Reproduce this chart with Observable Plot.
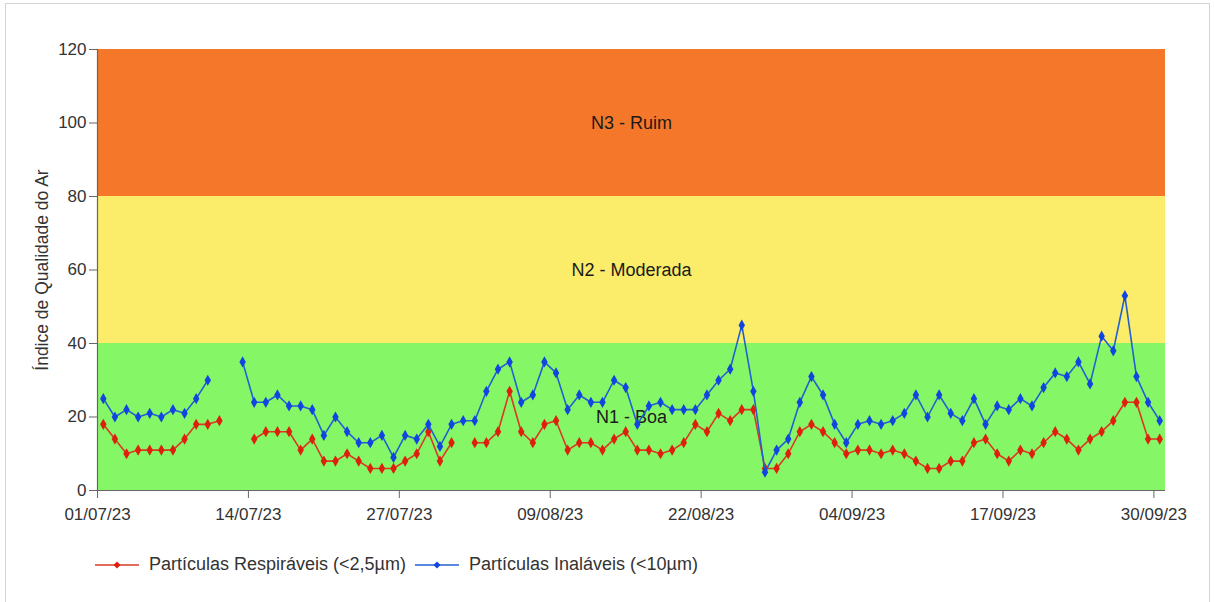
<!DOCTYPE html>
<html>
<head>
<meta charset="utf-8">
<script src="https://cdn.jsdelivr.net/npm/d3@7"></script>
<script src="https://cdn.jsdelivr.net/npm/@observablehq/plot@0.6"></script>
<style>
  html, body { margin: 0; padding: 0; background: #fff; }
  body { width: 1214px; height: 602px; position: relative; overflow: hidden; font-family: "Liberation Sans", Arial, sans-serif; }
  #frame { position: absolute; left: 5px; top: 3px; width: 1205px; height: 620px; border: 1px solid #d4d4d4; box-sizing: border-box; pointer-events: none; }
  #chart { position: absolute; left: 0; top: 0; }
  #legend { position: absolute; left: 95px; top: 554px; display: flex; align-items: center; font-size: 18px; color: #333; }
  .item { display: flex; align-items: center; margin-right: 9px; }
  .item svg { margin-right: 10px; }
</style>
</head>
<body>
<div id="chart"></div>
<div id="legend"></div>
<div id="frame"></div>
<script>
// ---- data ----
const startDay = "2023-07-01";
const endDay = "2023-10-01";
// Partículas Respiráveis (<2,5µm), one value per day from 01/07/23 (null = no data)
const pm25 = [18,14,10,11,11,11,11,14,18,18,19,null,null,14,16,16,16,11,14,8,
  8,10,8,6,6,6,8,10,16,8,13,null,13,13,16,27,16,13,18,19,
  11,13,13,11,14,16,11,11,10,11,13,18,16,21,19,22,22,6,6,10,
  16,18,16,13,10,11,11,10,11,10,8,6,6,8,8,13,14,10,8,11,
  10,13,16,14,11,14,16,19,24,24,14,14];
// Partículas Inaláveis (<10µm)
const pm10 = [25,20,22,20,21,20,22,21,25,30,null,null,35,24,24,26,23,23,22,15,
  20,16,13,13,15,9,15,14,18,12,18,19,19,27,33,35,24,26,35,32,
  22,26,24,24,30,28,18,23,24,22,22,22,26,30,33,45,27,5,11,14,
  24,31,26,18,13,18,19,18,19,21,26,20,26,21,19,25,18,23,22,25,
  23,28,32,31,35,29,42,38,53,31,24,19];
const seriesNames = ["Partículas Respiráveis (<2,5µm)", "Partículas Inaláveis (<10µm)"];
const lineColors = ["#d93a22", "#2360d2"];
const markColors = ["#dd1f0c", "#1244e0"];
// quality bands
const bandLabels = ["N1 - Boa", "N2 - Moderada", "N3 - Ruim"];
const bandLow = [0, 40, 80];
const bandHigh = [40, 80, 120];
const bandColors = ["#85f766", "#fbec69", "#f5782a"];
// axes
const xTicks = ["2023-07-01","2023-07-14","2023-07-27","2023-08-09","2023-08-22","2023-09-04","2023-09-17","2023-09-30"];
const yTicks = [0, 20, 40, 60, 80, 100, 120];
const yTitle = "Índice de Qualidade do Ar";

// ---- build ----
const t0 = new Date(startDay + "T00:00:00Z");
const t1 = new Date(endDay + "T00:00:00Z");
const DAY = 864e5;
const rows = [];
[pm25, pm10].forEach((vals, s) => {
  vals.forEach((v, i) => rows.push({series: s, date: new Date(+t0 + (i + 0.5) * DAY), value: v}));
});
const bands = bandLabels.map((l, i) => ({label: l, lo: bandLow[i], hi: bandHigh[i], color: bandColors[i]}));
const mid = new Date((+t0 + +t1) / 2);

const marks = [
  Plot.rect(bands, {x1: () => t0, x2: () => t1, y1: "lo", y2: "hi", fill: "color"}),
  Plot.text(bands, {x: () => mid, y: d => (d.lo + d.hi) / 2, text: "label", fontSize: 18, fill: "#1a1a1a"}),
  Plot.ruleY([0], {stroke: "#666", strokeWidth: 1.2}),
  Plot.ruleX([t0], {stroke: "#666", strokeWidth: 1.2})
];
[0, 1].forEach(s => {
  const data = rows.filter(r => r.series === s);
  marks.push(Plot.line(data, {x: "date", y: "value", stroke: lineColors[s], strokeWidth: 1.6}));
  marks.push(Plot.dot(data.filter(d => d.value != null), {x: "date", y: "value", symbol: "diamond", r: 3.4, fill: markColors[s], stroke: "none"}));
});
marks.push(Plot.axisY({ticks: yTicks, tickSize: 8, tickPadding: 3, fontSize: 17, stroke: "#666", color: "#333",
  label: yTitle, labelAnchor: "center", labelOffset: 62, labelArrow: "none"}));
marks.push(Plot.axisX({ticks: xTicks.map(s => new Date(s + "T00:00:00Z")), tickSize: 8, tickPadding: 9, fontSize: 17,
  stroke: "#666", color: "#333", tickFormat: d3.utcFormat("%d/%m/%y"), label: null}));

const chart = Plot.plot({
  width: 1214,
  height: 545,
  marginTop: 49,
  marginBottom: 55,
  marginLeft: 97,
  marginRight: 49,
  style: {fontFamily: "Liberation Sans, Arial, sans-serif", background: "transparent", color: "#333"},
  x: {type: "utc", domain: [t0, t1]},
  y: {domain: [0, 120]},
  marks
});
document.getElementById("chart").appendChild(chart);
chart.querySelectorAll('g[aria-label="y-axis label"] text, g[aria-label="y-axis label"]').forEach(el => {
  el.setAttribute("font-size", "17.5");
  el.style.fontSize = "17.5px";
});

// legend
const legend = document.getElementById("legend");
seriesNames.forEach((name, s) => {
  const item = document.createElement("div");
  item.className = "item";
  item.innerHTML = `<svg width="44" height="12"><line x1="0" y1="6" x2="44" y2="6" stroke="${lineColors[s]}" stroke-width="1.6"/><path d="M22,2.5L25.5,6L22,9.5L18.5,6Z" fill="${markColors[s]}"/></svg>`;
  const span = document.createElement("span");
  span.textContent = name;
  item.appendChild(span);
  legend.appendChild(item);
});
</script>
</body>
</html>
